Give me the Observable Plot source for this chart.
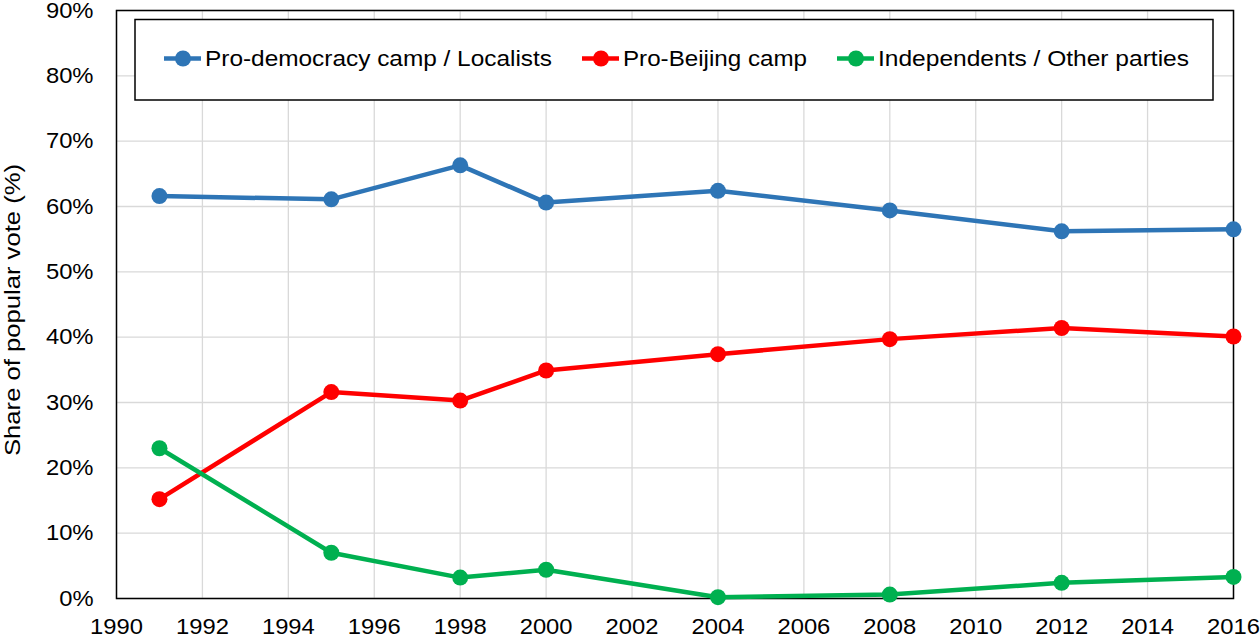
<!DOCTYPE html>
<html>
<head>
<meta charset="utf-8">
<script src="https://cdn.jsdelivr.net/npm/d3@7"></script>
<script src="https://cdn.jsdelivr.net/npm/@observablehq/plot@0.6"></script>
<style>
  html, body { margin: 0; padding: 0; background: #fff; }
  svg { font-family: "Liberation Sans", Arial, sans-serif; }
</style>
</head>
<body>
<div id="chart"></div>
<script>
const years = [1991, 1995, 1998, 2000, 2004, 2008, 2012, 2016];
const proDemocracy = [61.6, 61.1, 66.3, 60.6, 62.4, 59.4, 56.2, 56.5];
const proBeijing = [15.2, 31.6, 30.3, 34.9, 37.4, 39.7, 41.4, 40.1];
const independents = [23.0, 7.0, 3.2, 4.4, 0.2, 0.6, 2.4, 3.3];
const seriesNames = ["Pro-democracy camp / Localists", "Pro-Beijing camp", "Independents / Other parties"];
const seriesColors = ["#2E75B6", "#FF0000", "#00B050"];
const xTicks = d3.range(1990, 2017, 2);
const yTicks = d3.range(0, 91, 10);

const seriesValues = [proDemocracy, proBeijing, independents];
const data = [];
seriesNames.forEach((s, i) => years.forEach((y, j) => data.push({series: s, year: y, value: seriesValues[i][j]})));

const W = 1260, H = 639;
const chart = Plot.plot({
  width: W, height: H,
  marginLeft: 116, marginRight: 27, marginTop: 10, marginBottom: 41,
  style: {fontFamily: '"Liberation Sans", Arial, sans-serif', fontSize: "22px", color: "#000", background: "#fff"},
  x: {domain: [1990, 2016], label: null, axis: null},
  y: {domain: [0, 90], label: null, axis: null},
  color: {domain: seriesNames, range: seriesColors},
  marks: [
    Plot.gridX(xTicks, {stroke: "#D9D9D9", strokeOpacity: 1, strokeWidth: 1.3}),
    Plot.gridY(yTicks, {stroke: "#D9D9D9", strokeOpacity: 1, strokeWidth: 1.3}),
    Plot.text(xTicks, {x: d => d, text: d => String(d), frameAnchor: "bottom", lineAnchor: "middle", dy: 28, fontSize: 22, fill: "#000", textAnchor: "middle"}),
    Plot.text(yTicks, {y: d => d, text: d => d + "%", frameAnchor: "left", lineAnchor: "middle", dx: -23, fontSize: 22, fill: "#000", textAnchor: "end"}),
    Plot.frame({stroke: "#000", strokeWidth: 1.5}),
    Plot.line(data, {x: "year", y: "value", z: "series", stroke: "series", strokeWidth: 4.5, curve: "linear"}),
    Plot.dot(data, {x: "year", y: "value", fill: "series", r: 8, stroke: "none"})
  ]
});
document.getElementById("chart").appendChild(chart);

const svg = d3.select(chart);
// tick labels: 22px, slightly widened to match the reference glyph widths
svg.selectAll("text").each(function() {
  const t = this.textContent;
  if (/^\d{4}$/.test(t) || /^\d+%$/.test(t)) {
    this.style.fontSize = "22px";
    const len = this.getComputedTextLength();
    if (len > 0) {
      this.setAttribute("textLength", (len * 1.08).toFixed(1));
      this.setAttribute("lengthAdjust", "spacingAndGlyphs");
    }
  }
});

// y axis title
svg.append("text")
  .attr("transform", `translate(12,${(10 + 598) / 2 + 6}) rotate(-90)`)
  .attr("text-anchor", "middle")
  .attr("dy", "0.35em")
  .attr("font-size", 22)
  .attr("textLength", 292)
  .attr("lengthAdjust", "spacingAndGlyphs")
  .attr("fill", "#000")
  .text("Share of popular vote (%)");

// legend box
const lg = svg.append("g").attr("text-anchor", "start");
lg.append("rect").attr("x", 135).attr("y", 19.5).attr("width", 1078).attr("height", 80.5)
  .attr("fill", "#fff").attr("stroke", "#000").attr("stroke-width", 1.5);
const legendX = [164, 582, 837];
const legendTextLen = [347, 184, 311];
seriesNames.forEach((s, i) => {
  const x0 = legendX[i];
  lg.append("line").attr("x1", x0).attr("x2", x0 + 37).attr("y1", 58.5).attr("y2", 58.5)
    .attr("stroke", seriesColors[i]).attr("stroke-width", 4.5);
  lg.append("circle").attr("cx", x0 + 19).attr("cy", 58.5).attr("r", 8).attr("fill", seriesColors[i]);
  lg.append("text").attr("x", x0 + 41).attr("y", 58.5).attr("dy", "0.35em")
    .attr("text-anchor", "start")
    .attr("font-size", 21.5)
    .attr("textLength", legendTextLen[i])
    .attr("lengthAdjust", "spacingAndGlyphs")
    .attr("fill", "#000").text(s);
});
</script>
</body>
</html>
